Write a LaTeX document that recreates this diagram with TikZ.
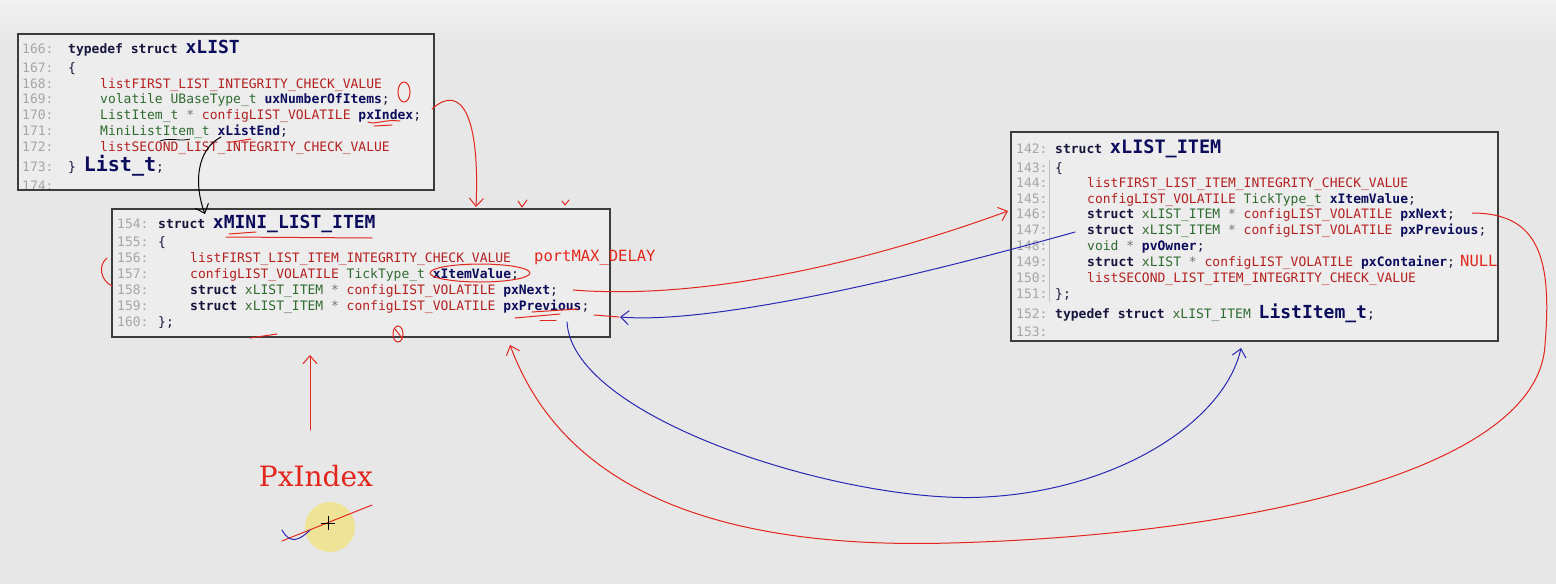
\documentclass[tikz,border=0pt]{standalone}
\usepackage{fontspec}
\setmainfont{DejaVu Sans}
\newfontfamily\codefont{DejaVu Sans Mono}
\newfontfamily\handfont{DejaVu Serif}
\usetikzlibrary{arrows.meta, positioning, calc}
\definecolor{cbg}{HTML}{E7E7E7}
\definecolor{cbox}{HTML}{EDEDED}
\definecolor{cframe}{HTML}{3C3C3C}
\definecolor{cnum}{HTML}{A6A6A6}
\definecolor{ckw}{HTML}{16163C}
\definecolor{cmac}{HTML}{B52020}
\definecolor{ctype}{HTML}{2F6B2F}
\definecolor{cid}{HTML}{0C0C5C}
\definecolor{inkred}{HTML}{E3261C}
\definecolor{inkblue}{HTML}{2828B4}
\newcommand{\cKw}[1]{\textcolor{ckw}{\bfseries #1}}
\newcommand{\cMac}[1]{\textcolor{cmac}{#1}}
\newcommand{\cTy}[1]{\textcolor{ctype}{#1}}
\newcommand{\cId}[1]{\textcolor{cid}{\bfseries #1}}
\newcommand{\cOp}[1]{\textcolor{cnum!70!black}{#1}}
\newcommand{\cBig}[2]{{\fontsize{#1}{#1}\selectfont\bfseries\textcolor{cid}{#2}}}

\begin{document}
\begin{tikzpicture}[
  x=1pt, y=-1pt,
  lnum/.style={anchor=base west, inner sep=0pt, font=\codefont\fontsize{13}{15}\selectfont, text=cnum},
  codeln/.style={anchor=base west, inner sep=0pt, font=\codefont\fontsize{13}{15}\selectfont, text=ckw},
  structbox/.style={draw=cframe, line width=1.6pt, fill=cbox, anchor=north west, inner sep=0pt},
  inkr/.style={draw=inkred, line width=1pt, line cap=round, line join=round},
  inkb/.style={draw=inkblue, line width=1pt, line cap=round, line join=round},
  hand/.style={-{Straight Barb[length=8pt, width=14pt]}},
  note/.style={anchor=base west, inner sep=0pt, font=\codefont, text=inkred},
]
\useasboundingbox (0,0) rectangle (1556,584);
\fill[cbg] (0,0) rectangle (1556,584);
\shade[top color=white!45!cbg, bottom color=cbg] (0,0) rectangle (1556,40);

% struct boxes
\node[structbox, minimum width=416pt, minimum height=156pt] (xlist) at (17,33) {};
\node[structbox, minimum width=498pt, minimum height=128pt] (mini) at (111,208) {};
\node[structbox, minimum width=487pt, minimum height=209pt] (item) at (1010,131) {};

% typedef struct xLIST
\begin{scope}
\clip (18,34) rectangle (432,188);
\node[lnum] (n166) at (22,53) {166:};
\node[lnum] (n167) at (22,72) {167:};
\node[lnum] (n168) at (22,88) {168:};
\node[lnum] (n169) at (22,103) {169:};
\node[lnum] (n170) at (22,119) {170:};
\node[lnum] (n171) at (22,135) {171:};
\node[lnum] (n172) at (22,151) {172:};
\node[lnum] (n173) at (22,171) {173:};
\node[lnum] (n174) at (22,190) {174:};
\node[codeln] (l166) at (68,53) {\cKw{typedef struct} \cBig{18}{xLIST}};
\node[codeln] (l167) at (68,72) {\{};
\node[codeln] (l168) at (100,88) {\cMac{listFIRST\_LIST\_INTEGRITY\_CHECK\_VALUE}};
\node[codeln] (l169) at (100,103) {\cTy{volatile UBaseType\_t} \cId{uxNumberOfItems};};
\node[codeln] (l170) at (100,119) {\cTy{ListItem\_t} \cOp{*} \cMac{configLIST\_VOLATILE} \cId{pxIndex};};
\node[codeln] (l171) at (100,135) {\cTy{MiniListItem\_t} \cId{xListEnd};};
\node[codeln] (l172) at (100,151) {\cMac{listSECOND\_LIST\_INTEGRITY\_CHECK\_VALUE}};
\node[codeln] (l173) at (68,171) {\} \cBig{20}{List\_t};};
\end{scope}

% struct xMINI_LIST_ITEM
\node[lnum] (n154) at (117,228) {154:};
\node[lnum] (n155) at (117,246) {155:};
\node[lnum] (n156) at (117,262) {156:};
\node[lnum] (n157) at (117,278) {157:};
\node[lnum] (n158) at (117,294) {158:};
\node[lnum] (n159) at (117,310) {159:};
\node[lnum] (n160) at (117,326) {160:};
\node[codeln] (l154) at (158,228) {\cKw{struct} \cBig{18}{xMINI\_LIST\_ITEM}};
\node[codeln] (l155) at (158,246) {\{};
\node[codeln] (l156) at (190,262) {\cMac{listFIRST\_LIST\_ITEM\_INTEGRITY\_CHECK\_VALUE}};
\node[codeln] (l157) at (190,278) {\cMac{configLIST\_VOLATILE} \cTy{TickType\_t} \cId{xItemValue};};
\node[codeln] (l158) at (190,294) {\cKw{struct} \cTy{xLIST\_ITEM} \cOp{*} \cMac{configLIST\_VOLATILE} \cId{pxNext};};
\node[codeln] (l159) at (190,310) {\cKw{struct} \cTy{xLIST\_ITEM} \cOp{*} \cMac{configLIST\_VOLATILE} \cId{pxPrevious};};
\node[codeln] (l160) at (158,326) {\};};

% struct xLIST_ITEM
\draw[cnum!60!cbox, line width=0.8pt] (1049,160) -- (1049,302);
\node[lnum] (n142) at (1016,153) {142:};
\node[lnum] (n143) at (1016,172) {143:};
\node[lnum] (n144) at (1016,187) {144:};
\node[lnum] (n145) at (1016,203) {145:};
\node[lnum] (n146) at (1016,218) {146:};
\node[lnum] (n147) at (1016,234) {147:};
\node[lnum] (n148) at (1016,250) {148:};
\node[lnum] (n149) at (1016,266) {149:};
\node[lnum] (n150) at (1016,282) {150:};
\node[lnum] (n151) at (1016,298) {151:};
\node[lnum] (n152) at (1016,318) {152:};
\node[lnum] (n153) at (1016,336) {153:};
\node[codeln] (l142) at (1055,153) {\cKw{struct} \cBig{18.5}{xLIST\_ITEM}};
\node[codeln] (l143) at (1055,172) {\{};
\node[codeln] (l144) at (1087,187) {\cMac{listFIRST\_LIST\_ITEM\_INTEGRITY\_CHECK\_VALUE}};
\node[codeln] (l145) at (1087,203) {\cMac{configLIST\_VOLATILE} \cTy{TickType\_t} \cId{xItemValue};};
\node[codeln] (l146) at (1087,218) {\cKw{struct} \cTy{xLIST\_ITEM} \cOp{*} \cMac{configLIST\_VOLATILE} \cId{pxNext};};
\node[codeln] (l147) at (1087,234) {\cKw{struct} \cTy{xLIST\_ITEM} \cOp{*} \cMac{configLIST\_VOLATILE} \cId{pxPrevious};};
\node[codeln] (l148) at (1087,250) {\cTy{void} \cOp{*} \cId{pvOwner};};
\node[codeln] (l149) at (1087,266) {\cKw{struct} \cTy{xLIST} \cOp{*} \cMac{configLIST\_VOLATILE} \cId{pxContainer};};
\node[codeln] (l150) at (1087,282) {\cMac{listSECOND\_LIST\_ITEM\_INTEGRITY\_CHECK\_VALUE}};
\node[codeln] (l151) at (1055,298) {\};};
\node[codeln] (l152) at (1055,318) {\cKw{typedef struct} \cTy{xLIST\_ITEM} \cBig{18}{ListItem\_t};};

% typed notes
\node[note, font=\codefont\fontsize{15.5}{16}\selectfont] (maxdelay) at (534,261) {portMAX\_DELAY};
\node[note, font=\codefont\fontsize{15.5}{16}\selectfont] (nullnote) at (1460,266) {NULL};

% hand marks
\coordinate (idxTail) at (432,109);
\coordinate (miniTop) at (476,207);
\coordinate (endTail) at (221,137);
\coordinate (miniLeftTop) at (205,214);
\coordinate (nextTail) at (573,290);
\coordinate (itemNext) at (1008,211);
\coordinate (itemPrev) at (1075,232);
\coordinate (miniPrev) at (620,317);
\coordinate (prevTail) at (567,322);
\coordinate (itemBottom) at (1241,348);
\coordinate (nextRight) at (1472,213);
\coordinate (miniBottom) at (510,345);
\coordinate (labelTop) at (310,430);
\coordinate (miniIdx) at (310,355);

\draw[inkr] (404,92) ellipse [x radius=6, y radius=10];
\draw[inkr] (368,122) .. controls (375,125) and (385,119) .. (400,121);
\draw[inkr] (374,126) -- (392,125);
\draw[inkr, hand] (idxTail) .. controls (462,82) and (480,118) .. (miniTop);
\draw[line width=1pt, line cap=round, hand] (endTail) .. controls (196,150) and (194,185) .. (miniLeftTop);
\draw[line width=0.8pt] (160,141) .. controls (170,137) and (180,142) .. (190,139);
\draw[inkr] (232,142) -- (251,139);
\draw[inkr] (226,237) -- (372,238);
\draw[inkr] (229,234) -- (256,232);
\draw[inkr] (518,201) -- (522,207) -- (527,200);
\draw[inkr] (562,201) -- (565,205) -- (569,200);
\draw[inkr] (107,258) .. controls (98,265) and (100,280) .. (112,286);
\draw[inkr] (480,273) ellipse [x radius=50, y radius=9];
\draw[inkr] (532,312) -- (578,309);
\draw[inkr] (515,318) -- (560,314);
\draw[inkr] (540,320) -- (556,320);
\draw[inkr] (594,315) -- (619,317);
\draw[inkr] (250,338) -- (277,334);
\draw[inkr] (398,334) ellipse [x radius=5, y radius=8];
\draw[inkr] (395,329) -- (402,338);

% pointer links
\draw[inkr, hand] (nextTail) .. controls (700,300) and (860,265) .. (itemNext);
\draw[inkb, hand] (itemPrev) .. controls (940,270) and (720,325) .. (miniPrev);
\draw[inkb, hand] (prevTail) .. controls (572,420) and (850,505) .. (985,497)
  .. controls (1120,490) and (1225,420) .. (itemBottom);
\draw[inkr, hand] (nextRight) .. controls (1540,213) and (1552,260) .. (1545,345)
  .. controls (1538,470) and (1250,535) .. (950,543)
  .. controls (700,550) and (560,480) .. (miniBottom);
\draw[inkr, hand] (labelTop) -- (miniIdx);

% pxIndex scribble
\node[anchor=center, inner sep=0pt, text=inkred, font=\handfont\fontsize{28}{28}\selectfont] (pxlabel) at (316,476) {PxIndex};
\fill[yellow!80!orange, opacity=0.35] (330,527) circle (25);
\draw[inkr] (282,541) -- (372,505);
\draw[inkb] (282,530) .. controls (290,545) and (300,540) .. (310,530);
\draw[black, line width=0.6pt] (328,516) -- (328,530) (321,523) -- (335,523);
\end{tikzpicture}
\end{document}
